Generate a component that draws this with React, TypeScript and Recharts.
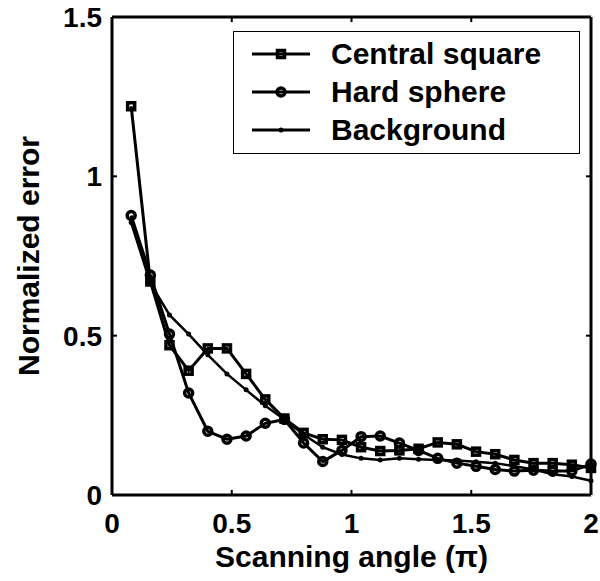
import { LineChart, Line, XAxis, YAxis, Legend, ReferenceLine } from 'recharts';

const angles = [
  0.08, 0.16, 0.24, 0.32, 0.4, 0.48, 0.56, 0.64, 0.72, 0.8, 0.88, 0.96, 1.04,
  1.12, 1.2, 1.28, 1.36, 1.44, 1.52, 1.6, 1.68, 1.76, 1.84, 1.92, 2.0,
];
const centralSquare = [
  1.22, 0.67, 0.47, 0.39, 0.46, 0.46, 0.38, 0.3, 0.24, 0.195, 0.175, 0.173, 0.15,
  0.138, 0.14, 0.145, 0.165, 0.159, 0.136, 0.128, 0.11, 0.1, 0.1, 0.095, 0.085,
];
const hardSphere = [
  0.877, 0.69, 0.505, 0.32, 0.2, 0.175, 0.185, 0.225, 0.237, 0.163, 0.105, 0.14, 0.183,
  0.185, 0.163, 0.14, 0.115, 0.1, 0.09, 0.08, 0.075, 0.078, 0.075, 0.075, 0.097,
];
const background = [
  0.855, 0.665, 0.565, 0.505, 0.44, 0.38, 0.33, 0.28, 0.237, 0.19, 0.15, 0.127, 0.115,
  0.11, 0.115, 0.112, 0.11, 0.108, 0.104, 0.1, 0.09, 0.08, 0.065, 0.058, 0.045,
];
const seriesKeys = ['square', 'sphere', 'bg'];
const seriesNames = ['Central square', 'Hard sphere', 'Background'];
const xTicks = [0, 0.5, 1, 1.5, 2];
const yTicks = [0, 0.5, 1, 1.5];

const chartData = angles.map((a, i) => ({
  angle: a,
  square: centralSquare[i],
  sphere: hardSphere[i],
  bg: background[i],
}));

const font = '"Liberation Sans", Arial, Helvetica, sans-serif';
const ink = '#000';

// marker shapes, MATLAB style (no fill, thick edge)
function Marker({ kind, cx, cy }: { kind: string; cx: number; cy: number }) {
  if (kind === 'square') {
    return <rect x={cx - 3.5} y={cy - 3.5} width={7} height={7} fill="none" stroke={ink} strokeWidth={3.5} />;
  }
  if (kind === 'sphere') {
    return <circle cx={cx} cy={cy} r={4} fill="none" stroke={ink} strokeWidth={3.5} />;
  }
  return <circle cx={cx} cy={cy} r={2.5} fill={ink} />;
}

const makeDot = (kind: string) => (props: any) => (
  <Marker key={`${kind}-${props.index}`} kind={kind} cx={props.cx} cy={props.cy} />
);

function LegendBox() {
  return (
    <div
      style={{
        border: '1.5px solid #000',
        background: '#fff',
        height: 123,
        boxSizing: 'border-box',
        paddingTop: 3,
        fontFamily: font,
        fontWeight: 700,
        fontSize: 30,
      }}
    >
      {seriesKeys.map((k, i) => (
        <div key={k} style={{ display: 'flex', alignItems: 'center', height: 38 }}>
          <svg width={58} height={20} style={{ marginLeft: 18, marginRight: 21 }}>
            <line x1={0} y1={10} x2={58} y2={10} stroke={ink} strokeWidth={3} />
            <Marker kind={k} cx={29} cy={10} />
          </svg>
          <span style={{ lineHeight: '38px' }}>{seriesNames[i]}</span>
        </div>
      ))}
    </div>
  );
}

export default function App() {
  const tickStyle = { fill: ink, fontSize: 28, fontWeight: 700, fontFamily: font };
  return (
    <div style={{ position: 'absolute', left: 0, top: 0, background: '#fff' }}>
      <LineChart
        width={600}
        height={581}
        data={chartData}
        margin={{ top: 17, right: 9, bottom: 0, left: 0 }}
      >
        <XAxis
          dataKey="angle"
          type="number"
          domain={[0, 2]}
          ticks={xTicks}
          height={86}
          axisLine={{ stroke: ink, strokeWidth: 3 }}
          tickLine={false}
          tickMargin={12}
          tick={tickStyle}
          label={{
            value: 'Scanning angle (π)',
            position: 'insideBottom',
            offset: 14,
            fill: ink,
            fontSize: 30,
            fontWeight: 700,
            fontFamily: font,
          }}
        />
        <YAxis
          type="number"
          domain={[0, 1.5]}
          ticks={yTicks}
          width={112}
          axisLine={{ stroke: ink, strokeWidth: 3 }}
          tickLine={false}
          tickMargin={4}
          tick={tickStyle}
          label={{
            content: ({ viewBox }: any) => {
              const cx = viewBox.x + 28;
              const cy = viewBox.y + viewBox.height / 2;
              return (
                <text
                  x={cx}
                  y={cy}
                  transform={`rotate(-90, ${cx}, ${cy})`}
                  textAnchor="middle"
                  dominantBaseline="central"
                  fill={ink}
                  fontSize={30}
                  fontWeight={700}
                  fontFamily={font}
                >
                  Normalized error
                </text>
              );
            },
          }}
        />
        {/* box edges */}
        <ReferenceLine y={1.5} stroke={ink} strokeWidth={3} />
        <ReferenceLine x={2} stroke={ink} strokeWidth={3} />
        {/* inward ticks on all four sides */}
        {xTicks.map((t) => (
          <ReferenceLine key={`xb${t}`} segment={[{ x: t, y: 0 }, { x: t, y: 0.016 }]} stroke={ink} strokeWidth={2} />
        ))}
        {xTicks.map((t) => (
          <ReferenceLine key={`xt${t}`} segment={[{ x: t, y: 1.5 }, { x: t, y: 1.484 }]} stroke={ink} strokeWidth={2} />
        ))}
        {yTicks.map((t) => (
          <ReferenceLine key={`yl${t}`} segment={[{ x: 0, y: t }, { x: 0.021, y: t }]} stroke={ink} strokeWidth={2} />
        ))}
        {yTicks.map((t) => (
          <ReferenceLine key={`yr${t}`} segment={[{ x: 2, y: t }, { x: 1.979, y: t }]} stroke={ink} strokeWidth={2} />
        ))}
        <Legend
          layout="vertical"
          align="center"
          verticalAlign="middle"
          wrapperStyle={{ left: 233, top: 31, width: 347 }}
          content={LegendBox}
        />
        <Line
          name={seriesNames[0]}
          dataKey="square"
          stroke={ink}
          strokeWidth={3}
          dot={makeDot('square')}
          activeDot={false}
          isAnimationActive={false}
        />
        <Line
          name={seriesNames[1]}
          dataKey="sphere"
          stroke={ink}
          strokeWidth={3}
          dot={makeDot('sphere')}
          activeDot={false}
          isAnimationActive={false}
        />
        <Line
          name={seriesNames[2]}
          dataKey="bg"
          stroke={ink}
          strokeWidth={2.5}
          dot={makeDot('bg')}
          activeDot={false}
          isAnimationActive={false}
        />
      </LineChart>
    </div>
  );
}
